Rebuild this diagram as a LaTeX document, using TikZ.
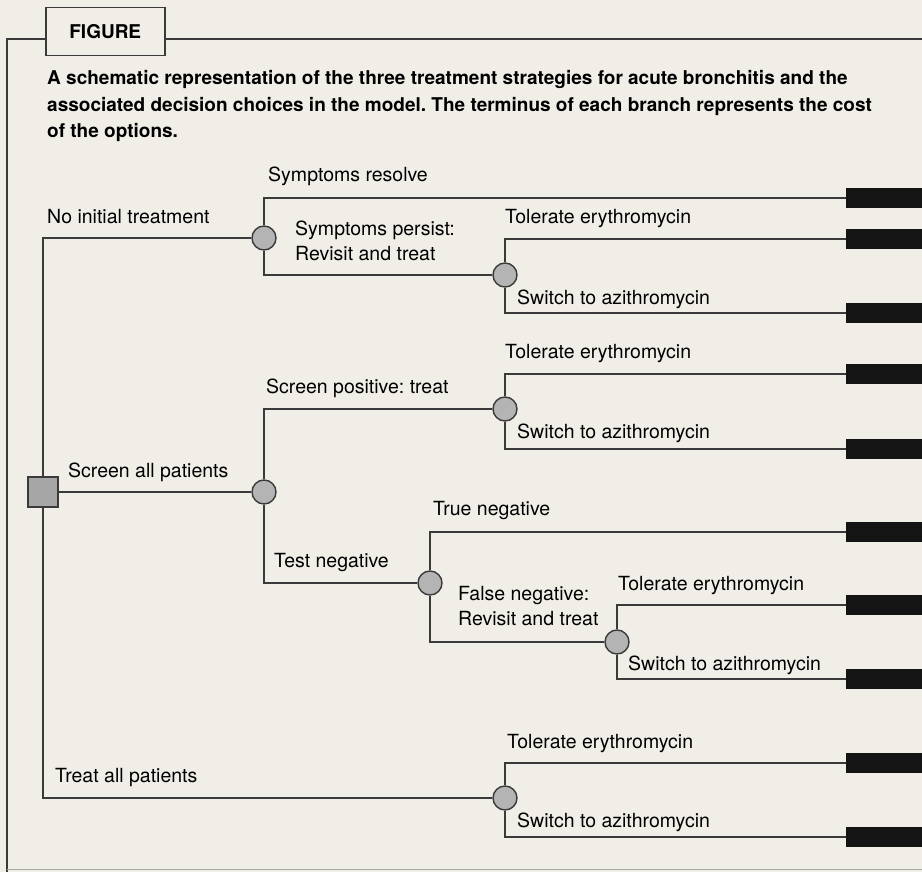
\documentclass[tikz,border=0pt]{standalone}
\usepackage{fontspec}
\setmainfont{TeX Gyre Heros}
\usepackage{xcolor}
\usepackage{tikz}
\usetikzlibrary{
  positioning,
  calc}
\frenchspacing
\definecolor{paper}{HTML}{F0EEE7}
\definecolor{ink}{HTML}{3A3A3A}
\definecolor{chancegray}{HTML}{B4B4B4}
\tikzset{every picture/.style={font issue=\fontsize{19.5}{25}},
         font issue/.style={execute at begin picture={#1\selectfont}}
        }
\tikzset{
  branch/.style={draw=ink, line width=1.5pt},
  chance/.style={circle, draw=ink, fill=chancegray, line width=1.4pt, minimum size=24pt, inner sep=0pt},
  decision/.style={rectangle, draw=ink, fill=chancegray!92!black, line width=1.4pt, minimum size=30pt, inner sep=0pt},
  payoff/.style={rectangle, fill=black!92, anchor=west, minimum width=76pt, minimum height=20pt, inner sep=0pt},
  lbl/.style={anchor=base west, inner sep=0pt, align=left}
}

\begin{document}
\begin{tikzpicture}[x=1pt, y=-1pt]

\fill[paper] (0,0) rectangle (922,872);
\useasboundingbox (0,0) rectangle (922,872);

%frame
\draw[ink, line width=1.5pt] (45,39) -- (7,39) -- (7,872);
\draw[ink, line width=1.5pt] (164,39) -- (922,39);
\draw[ink!45, line width=1pt] (7,869) -- (922,869);
\node[draw=ink, line width=1.5pt, minimum width=119pt, minimum height=48pt, anchor=north west] (figbox) at (45,7) {};
\node[font=\bfseries\fontsize{19}{19}\selectfont] (figtitle) at (figbox) {FIGURE};

% base anchor sits on the last line
\node[lbl, font=\bfseries\fontsize{19}{26.5}\selectfont] (caption) at (47,138)
  {A schematic representation of the three treatment strategies for acute bronchitis and the\\
   associated decision choices in the model. The terminus of each branch represents the cost\\
   of the options.};

%tree
\coordinate (r0) at (43,492);
\coordinate (w0) at (264,238);
\coordinate (s0) at (264,492);
\coordinate (t0) at (505,798);
\coordinate (p0) at (505,275);
\coordinate (q0) at (505,409);
\coordinate (n0) at (430,583);
\coordinate (f0) at (617,642);

\node[decision] (root) at (r0) {};
\node[chance] (wait) at (w0) {};
\node[chance] (screen) at (s0) {};
\node[chance] (treatall) at (t0) {};
\node[chance] (persist) at (p0) {};
\node[chance] (positive) at (q0) {};
\node[chance] (negtest) at (n0) {};
\node[chance] (falseneg) at (f0) {};

%costs
\node[payoff] (endResolve) at (846,198) {};
\node[payoff] (endPersistTol) at (846,239) {};
\node[payoff] (endPersistSw) at (846,313) {};
\node[payoff] (endPosTol) at (846,374) {};
\node[payoff] (endPosSw) at (846,449) {};
\node[payoff] (endTrueNeg) at (846,532) {};
\node[payoff] (endFalseTol) at (846,605) {};
\node[payoff] (endFalseSw) at (846,679) {};
\node[payoff] (endAllTol) at (846,763) {};
\node[payoff] (endAllSw) at (846,837) {};

\draw[branch] (root.north) |- (wait.west);
\draw[branch] (root.east) -- (screen.west);
\draw[branch] (root.south) |- (treatall.west);

\draw[branch] (wait.north) |- (endResolve.west);
\draw[branch] (wait.south) |- (persist.west);
\draw[branch] (persist.north) |- (endPersistTol.west);
\draw[branch] (persist.south) |- (endPersistSw.west);

\draw[branch] (screen.north) |- (positive.west);
\draw[branch] (screen.south) |- (negtest.west);
\draw[branch] (positive.north) |- (endPosTol.west);
\draw[branch] (positive.south) |- (endPosSw.west);
\draw[branch] (negtest.north) |- (endTrueNeg.west);
\draw[branch] (negtest.south) |- (falseneg.west);
\draw[branch] (falseneg.north) |- (endFalseTol.west);
\draw[branch] (falseneg.south) |- (endFalseSw.west);

\draw[branch] (treatall.north) |- (endAllTol.west);
\draw[branch] (treatall.south) |- (endAllSw.west);

%labels
\node[lbl] at (47,223) {No initial treatment};
\node[lbl] at (68,477) {Screen all patients};
\node[lbl] at (55,782) {Treat all patients};
\node[lbl] at (268,182) {Symptoms resolve};
\node[lbl] at (295,261) {Symptoms persist:\\Revisit and treat};
\node[lbl] at (505,224) {Tolerate erythromycin};
\node[lbl] at (517,304) {Switch to azithromycin};
\node[lbl] at (266,393) {Screen positive: treat};
\node[lbl] at (505,358) {Tolerate erythromycin};
\node[lbl] at (517,438) {Switch to azithromycin};
\node[lbl] at (274,567) {Test negative};
\node[lbl] at (433,515) {True negative};
\node[lbl] at (458,625) {False negative:\\Revisit and treat};
\node[lbl] at (618,590) {Tolerate erythromycin};
\node[lbl] at (628,670) {Switch to azithromycin};
\node[lbl] at (507,748) {Tolerate erythromycin};
\node[lbl] at (517,827) {Switch to azithromycin};

\end{tikzpicture}
\end{document}
